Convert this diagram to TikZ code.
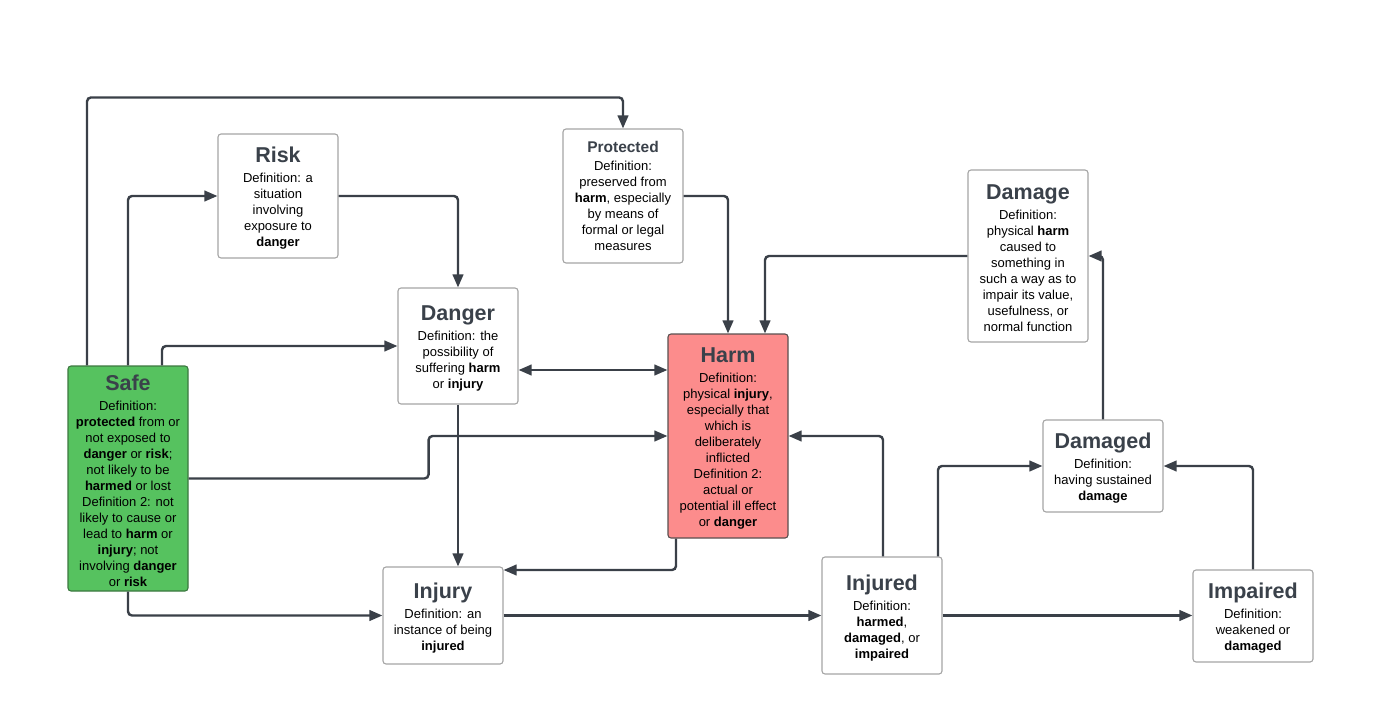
\documentclass[tikz,border=0pt]{standalone}
\usepackage{fontspec}
\setmainfont{Liberation Sans}
\usetikzlibrary{arrows.meta}
\definecolor{linegray}{RGB}{58,64,72}
\definecolor{titlegray}{RGB}{58,65,74}
\definecolor{boxgray}{RGB}{165,165,165}
\definecolor{safegreen}{RGB}{86,194,95}
\definecolor{safeborder}{RGB}{60,120,64}
\definecolor{harmred}{RGB}{252,140,140}
\definecolor{harmborder}{RGB}{90,80,80}
\newcommand{\ttl}[1]{{\fontsize{21.5}{22}\selectfont\bfseries\color{titlegray}\rule{0pt}{20pt}#1}\\[4pt]}
\newcommand{\ttlsmall}[1]{{\fontsize{15.5}{17}\selectfont\bfseries\color{titlegray}#1}\\[1.5pt]}
\begin{document}
\begin{tikzpicture}[x=1pt,y=-1pt,
  box/.style={draw=boxgray, line width=1.1pt, rounded corners=3pt, fill=white,
    minimum width=120pt, align=center, inner sep=2pt,
    font=\fontsize{13}{16}\selectfont},
  conn/.style={draw=linegray, line width=2.4pt, rounded corners=4pt,
    -{Triangle[length=13pt,width=10.5pt]}},
  conn2/.style={draw=linegray, line width=2.4pt,
    {Triangle[length=13pt,width=10.5pt]}-{Triangle[length=13pt,width=10.5pt]}}]
\useasboundingbox (0,0) rectangle (1389,701);
\fill[white] (0,0) rectangle (1389,701);

\node[box, fill=safegreen, draw=safeborder, minimum height=225pt] (safe) at (128,478.5)
  {\ttl{Safe}Definition:\\ \textbf{protected} from or\\ not exposed to\\ \textbf{danger} or \textbf{risk};\\ not likely to be\\ \textbf{harmed} or lost\\ Definition 2: not\\ likely to cause or\\ lead to \textbf{harm} or\\ \textbf{injury}; not\\ involving \textbf{danger}\\ or \textbf{risk}};
\node[box, minimum height=124pt] (risk) at (278,196)
  {\ttl{Risk}Definition: a\\ situation\\ involving\\ exposure to\\ \textbf{danger}};
\node[box, minimum height=134pt] (protected) at (623,196)
  {\ttlsmall{Protected}Definition:\\ preserved from\\ \textbf{harm}, especially\\ by means of\\ formal or legal\\ measures};
\node[box, minimum height=116pt] (danger) at (458,346)
  {\ttl{Danger}Definition: the\\ possibility of\\ suffering \textbf{harm}\\ or \textbf{injury}};
\node[box, fill=harmred, draw=harmborder, minimum height=204pt] (harm) at (728,436)
  {\ttl{Harm}Definition:\\ physical \textbf{injury},\\ especially that\\ which is\\ deliberately\\ inflicted\\ Definition 2:\\ actual or\\ potential ill effect\\ or \textbf{danger}};
\node[box, minimum height=172pt] (damage) at (1028,256)
  {\ttl{Damage}Definition:\\ physical \textbf{harm}\\ caused to\\ something in\\ such a way as to\\ impair its value,\\ usefulness, or\\ normal function};
\node[box, minimum height=92pt] (damaged) at (1103,466)
  {\ttl{Damaged}Definition:\\ having sustained\\ \textbf{damage}};
\node[box, minimum height=97pt] (injury) at (443,615.5)
  {\ttl{Injury}Definition: an\\ instance of being\\ \textbf{injured}};
\node[box, minimum height=117pt] (injured) at (882,615.5)
  {\ttl{Injured}Definition:\\ \textbf{harmed},\\ \textbf{damaged}, or\\ \textbf{impaired}};
\node[box, minimum height=92pt] (impaired) at (1253,616)
  {\ttl{Impaired}Definition:\\ weakened or\\ \textbf{damaged}};

\coordinate (dh) at ([yshift=-24pt]danger.east);
\coordinate (hi) at ([yshift=45.5pt]injury.east);

% connectors
\draw[conn] ([xshift=-41pt]safe.north) -- ++(0,-268) -| (protected.north);
\draw[conn] (safe.north) |- (risk.west);
\draw[conn] ([xshift=34pt]safe.north) |- (danger.west);
\draw[conn] (risk.east) -| (danger.north);
\draw[conn] (protected.east) -| (harm.north);
\draw[conn] (damage.west) -| ([xshift=37pt]harm.north);
\draw[conn2] (dh) -- (harm.west |- dh);
\draw[conn] (safe.east) -- ++(240,0) |- (harm.west);
\draw[conn] (danger.south) -- (danger.south |- injury.north);
\draw[conn] ([xshift=-52pt]harm.south) |- (hi);
\draw[conn] (safe.south) |- (injury.west);
\draw[conn] (injury.east) -- (injured.west);
\draw[conn] ([xshift=1pt]injured.north) |- (harm.east);
\draw[conn] ([xshift=56pt]injured.north) |- (damaged.west);
\draw[conn] (injured.east) -- (impaired.west |- injured.east);
\draw[conn] (impaired.north) |- (damaged.east);
\draw[conn] (damaged.north) |- (damage.east);
\end{tikzpicture}
\end{document}
